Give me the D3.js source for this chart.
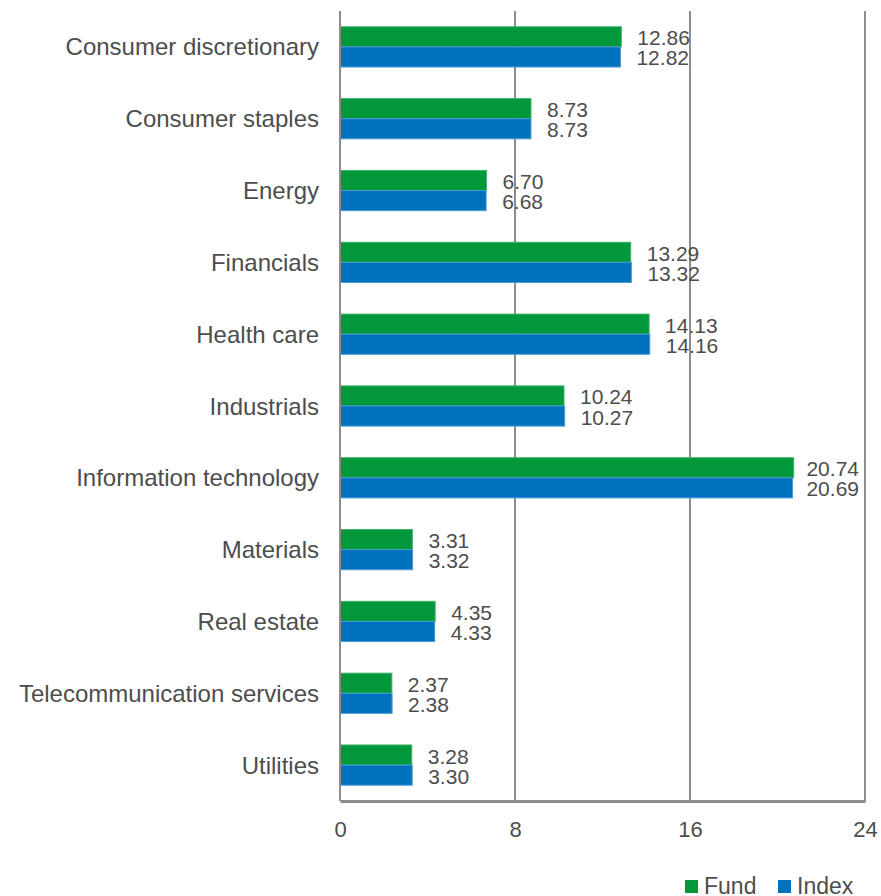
<!DOCTYPE html>
<html>
<head>
<meta charset="utf-8">
<script src="https://cdn.jsdelivr.net/npm/d3@7"></script>
<style>
  html, body { margin: 0; padding: 0; background: #fff; }
  svg { display: block; font-family: "Liberation Sans", Arial, sans-serif; }
</style>
</head>
<body>
<svg id="chart" width="881" height="896"></svg>
<script>
// Sector weights (%) — fund vs. benchmark index
const categories = [
  "Consumer discretionary", "Consumer staples", "Energy", "Financials",
  "Health care", "Industrials", "Information technology", "Materials",
  "Real estate", "Telecommunication services", "Utilities"
];
const fundValues  = [12.86, 8.73, 6.70, 13.29, 14.13, 10.24, 20.74, 3.31, 4.35, 2.37, 3.28];
const indexValues = [12.82, 8.73, 6.68, 13.32, 14.16, 10.27, 20.69, 3.32, 4.33, 2.38, 3.30];
const seriesNames = ["Fund", "Index"];
const xTicks = [0, 8, 16, 24];

const colors = { Fund: "#00983A", Index: "#0071BC" };
const strokeColors = { Fund: "#3DB36A", Index: "#4A9BD6" };
const textColor = "#4D4D4D";
const gridColor = "#8C8C8C";

const svg = d3.select("#chart");
const margin = { left: 340, right: 16, top: 11, bottom: 95 };
const W = 881, H = 896;
const plotW = W - margin.left - margin.right;
const plotH = H - margin.top - margin.bottom;

const x = d3.scaleLinear().domain([0, 24]).range([margin.left, margin.left + plotW]);
const y = d3.scaleBand().domain(categories)
  .range([margin.top, margin.top + plotH])
  .paddingInner(0.44).paddingOuter(0.22);
const ySub = d3.scaleBand().domain(seriesNames).range([0, y.bandwidth()]);

const rows = categories.map((c, i) => ({
  cat: c,
  vals: [
    { key: "Fund", v: fundValues[i] },
    { key: "Index", v: indexValues[i] }
  ]
}));

// vertical gridlines
svg.append("g").selectAll("line").data(xTicks.slice(1)).join("line")
  .attr("x1", d => x(d)).attr("x2", d => x(d))
  .attr("y1", margin.top).attr("y2", margin.top + plotH)
  .attr("stroke", gridColor).attr("stroke-width", 2);

// bars
const groups = svg.append("g").selectAll("g").data(rows).join("g")
  .attr("transform", d => `translate(0,${y(d.cat)})`);

groups.selectAll("rect").data(d => d.vals).join("rect")
  .attr("x", x(0))
  .attr("y", d => ySub(d.key))
  .attr("width", d => x(d.v) - x(0))
  .attr("height", ySub.bandwidth())
  .attr("fill", d => colors[d.key])
  .attr("stroke", d => strokeColors[d.key])
  .attr("stroke-width", 1);

// value labels
const rightLimit = 859;
groups.selectAll("text").data(d => d.vals).join("text")
  .attr("x", d => x(d.v) + 16)
  .attr("y", d => ySub(d.key) + ySub.bandwidth() / 2 + 1)
  .attr("dominant-baseline", "central")
  .attr("font-size", 21)
  .attr("fill", textColor)
  .text(d => d.v.toFixed(2))
  .each(function(d) {
    const w = this.getComputedTextLength();
    const xx = x(d.v) + 16;
    if (xx + w > rightLimit) d3.select(this).attr("x", rightLimit - w);
  });

// left axis line
svg.append("line")
  .attr("x1", x(0)).attr("x2", x(0))
  .attr("y1", margin.top).attr("y2", margin.top + plotH)
  .attr("stroke", gridColor).attr("stroke-width", 2);

// bottom axis
const xAxis = svg.append("g")
  .attr("transform", `translate(0,${margin.top + plotH})`)
  .call(d3.axisBottom(x).tickValues(xTicks).tickSize(0).tickPadding(20).tickFormat(d3.format("d")));
xAxis.select(".domain").attr("stroke", gridColor).attr("stroke-width", 3);
xAxis.selectAll("text")
  .attr("font-size", 22)
  .attr("fill", textColor)
  .attr("font-family", "Liberation Sans, Arial, sans-serif");

// category labels
svg.append("g").selectAll("text").data(categories).join("text")
  .attr("x", margin.left - 21)
  .attr("y", d => y(d) + y.bandwidth() / 2)
  .attr("text-anchor", "end")
  .attr("dominant-baseline", "central")
  .attr("font-size", 24)
  .attr("fill", textColor)
  .text(d => d);

// legend along the bottom edge
const legend = svg.append("g").attr("transform", "translate(685,880)");
const legendItems = legend.selectAll("g").data(seriesNames).join("g")
  .attr("transform", (d, i) => `translate(${i * 93},0)`);
legendItems.append("rect")
  .attr("width", 13).attr("height", 13)
  .attr("fill", d => colors[d]);
legendItems.append("text")
  .attr("x", 19).attr("y", 14)
  .attr("font-size", 23)
  .attr("fill", textColor)
  .text(d => d);
</script>
</body>
</html>
